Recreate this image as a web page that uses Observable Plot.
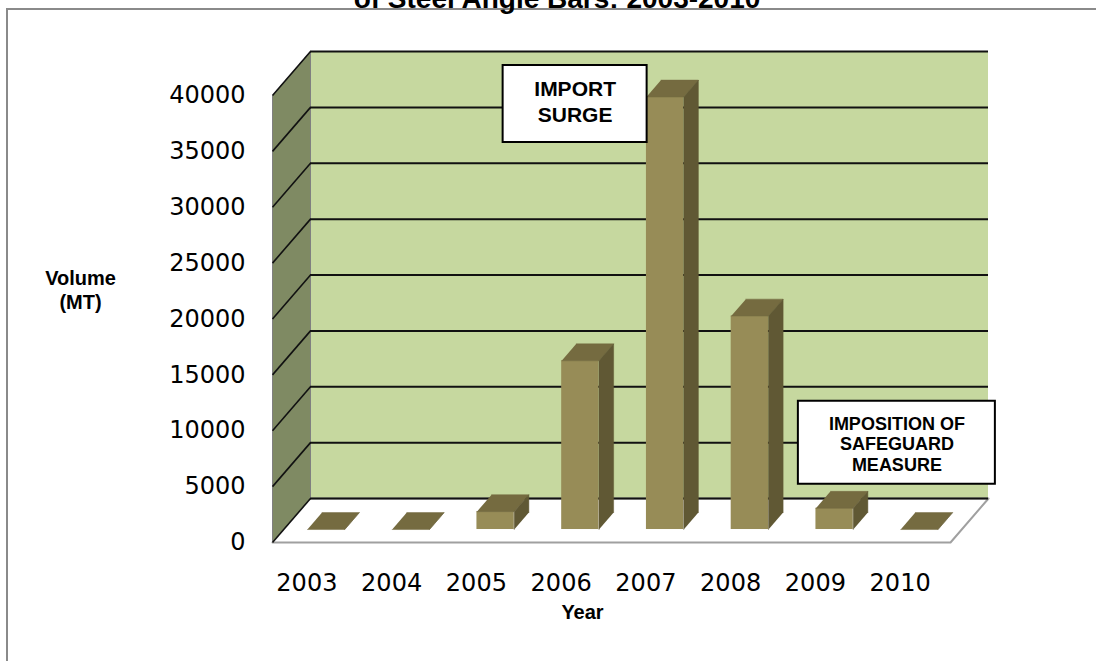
<!DOCTYPE html>
<html>
<head>
<meta charset="utf-8">
<script src="https://cdn.jsdelivr.net/npm/d3@7"></script>
<script src="https://cdn.jsdelivr.net/npm/@observablehq/plot@0.6"></script>
<style>
  html, body { margin: 0; padding: 0; background: #fff; overflow: hidden; }
  #wrap { position: relative; width: 1096px; height: 661px; }
  #chart { position: absolute; left: 0; top: 0; }
  #frame { position: absolute; left: 6px; top: 8px; width: 1300px; height: 900px;
           border-left: 2px solid #8a8a8a; border-top: 2px solid #8a8a8a; pointer-events: none; }
  #title { position: absolute; left: 0; width: 1114px; top: -15px; text-align: center;
           font: bold 28px "Liberation Sans", Arial, sans-serif; line-height: 28px; color: #000; white-space: nowrap; }
</style>
</head>
<body>
<div id="wrap">
  <div id="chart"></div>
  <div id="frame"></div>
  <div id="title">of Steel Angle Bars: 2003-2010</div>
</div>
<script>
// ---- data ----
const years = [2003, 2004, 2005, 2006, 2007, 2008, 2009, 2010];
const volumes = [0, 0, 1600, 15100, 38700, 19100, 1900, 0];
const yTicks = [0, 5000, 10000, 15000, 20000, 25000, 30000, 35000, 40000];
const yLabel = "Volume\n(MT)";
const xLabel = "Year";
const noteTexts = ["IMPORT\nSURGE", "IMPOSITION OF\nSAFEGUARD\nMEASURE"];
const noteYears = [2006, 2009];
const noteValues = [40000, 10000];

// ---- 3D projection constants (oblique depth, in data units) ----
const DX = 38 / 84.75;          // depth shift in category units
const DY = 44 / 447 * 40000;    // depth shift in value units
const B0 = 0.28, B1 = 0.72;     // bar extent inside its band
const D0 = 0.295, D1 = 0.68;    // bar extent in depth
const N = years.length;
const YMAX = 40000;
const pt = (x, v, d, key) => ({x: x + d * DX, y: v + d * DY, key});

const bars = years.map((yr, i) => ({year: yr, i, v: volumes[i]}));
const topPts = bars.flatMap(b => [
  pt(b.i + B0, b.v, D0, b.i), pt(b.i + B1, b.v, D0, b.i),
  pt(b.i + B1, b.v, D1, b.i), pt(b.i + B0, b.v, D1, b.i)
]);
const sidePts = bars.flatMap(b => [
  pt(b.i + B1, 0, D0, b.i), pt(b.i + B1, b.v, D0, b.i),
  pt(b.i + B1, b.v, D1, b.i), pt(b.i + B1, 0, D1, b.i)
]);
const leftWall = [pt(0, 0, 0, "w"), pt(0, YMAX, 0, "w"), pt(0, YMAX, 1, "w"), pt(0, 0, 1, "w")];
const floor = [pt(0, 0, 0, "f"), pt(N, 0, 0, "f"), pt(N, 0, 1, "f"), pt(0, 0, 1, "f")];
const notes = noteTexts.map((t, k) => ({text: t, i: years.indexOf(noteYears[k]), v: noteValues[k]}));

const FONT = "'Liberation Sans', Arial, sans-serif";
const NUMFONT = "'DejaVu Sans', Verdana, sans-serif";

const chart = Plot.plot({
  width: 1096,
  height: 661,
  marginLeft: 272,
  marginRight: 146,
  marginTop: 95,
  marginBottom: 119,
  style: {background: "transparent", fontFamily: NUMFONT, fontSize: "24px", color: "#000"},
  x: {type: "linear", domain: [0, N], axis: null},
  y: {domain: [0, YMAX], ticks: yTicks, tickFormat: "d", tickSize: 0, tickPadding: 27, label: null},
  marks: [
    // back wall
    Plot.rect([0], {x1: () => DX, x2: () => N + DX, y1: () => DY, y2: () => YMAX + DY, fill: "#c6d89f"}),
    // left side wall
    Plot.line(leftWall, {x: "x", y: "y", z: "key", fill: "#7f8a63", stroke: "#808080", strokeWidth: 1}),
    // floor
    Plot.line(floor, {x: "x", y: "y", z: "key", fill: "#ffffff", stroke: "#a0a0a0", strokeWidth: 2}),
    // gridlines on back wall
    Plot.ruleY(yTicks, {y: d => d + DY, x1: () => DX, x2: () => N + DX, stroke: "#111", strokeWidth: 2}),
    // gridlines on side wall
    Plot.link(yTicks, {x1: () => 0, y1: d => d, x2: () => DX, y2: d => d + DY, stroke: "#111", strokeWidth: 1.6}),
    // bars: front, top, side
    Plot.rect(bars, {x1: d => d.i + B0 + D0 * DX, x2: d => d.i + B1 + D0 * DX,
                     y1: () => D0 * DY, y2: d => d.v + D0 * DY, fill: "#978c57"}),
    Plot.line(topPts, {x: "x", y: "y", z: "key", fill: "#756b40", stroke: "#756b40", strokeWidth: 0.5}),
    Plot.line(sidePts, {x: "x", y: "y", z: "key", fill: "#605834", stroke: "#605834", strokeWidth: 0.5}),
    // year labels
    Plot.text(bars, {x: d => d.i + 0.5, y: () => 0, text: d => String(d.year), dy: 41, dx: -8,
                     fontSize: 24, fontFamily: NUMFONT, fill: "#000"}),
    // axis titles
    Plot.text([yLabel], {frameAnchor: "left", text: d => d, dx: -192, dy: -30, fontSize: 20,
                         fontWeight: "bold", fontFamily: FONT, lineHeight: 1.2, textAnchor: "middle", fill: "#000"}),
    Plot.text([xLabel], {frameAnchor: "bottom", text: d => d, dx: -29, dy: 76, fontSize: 20,
                         fontWeight: "bold", fontFamily: FONT, textAnchor: "middle", fill: "#000"}),
    // annotation 1
    Plot.rect([notes[0]], {x1: d => d.i + 0.5, x2: d => d.i + 0.5, y1: d => d.v, y2: d => d.v,
                           dx: 6, dy: 8.5, insetLeft: -72, insetRight: -72, insetTop: -38.5, insetBottom: -38.5,
                           fill: "#fff", stroke: "#000", strokeWidth: 2}),
    Plot.text([notes[0]], {x: d => d.i + 0.5, y: d => d.v, text: "text", dx: 6, dy: 5,
                           fontSize: 21, fontWeight: "bold", fontFamily: FONT, lineHeight: 1.24, fill: "#000"}),
    // annotation 2
    Plot.rect([notes[1]], {x1: d => d.i + 0.5, x2: d => d.i + 0.5, y1: d => d.v, y2: d => d.v,
                           dx: 73.5, dy: 12, insetLeft: -98.5, insetRight: -98.5, insetTop: -41.5, insetBottom: -41.5,
                           fill: "#fff", stroke: "#000", strokeWidth: 2}),
    Plot.text([notes[1]], {x: d => d.i + 0.5, y: d => d.v, text: "text", dx: 73.5, dy: 13,
                           fontSize: 18, fontWeight: "bold", fontFamily: FONT, lineHeight: 1.14, fill: "#000"})
  ]
});
document.getElementById("chart").appendChild(chart);
</script>
</body>
</html>
